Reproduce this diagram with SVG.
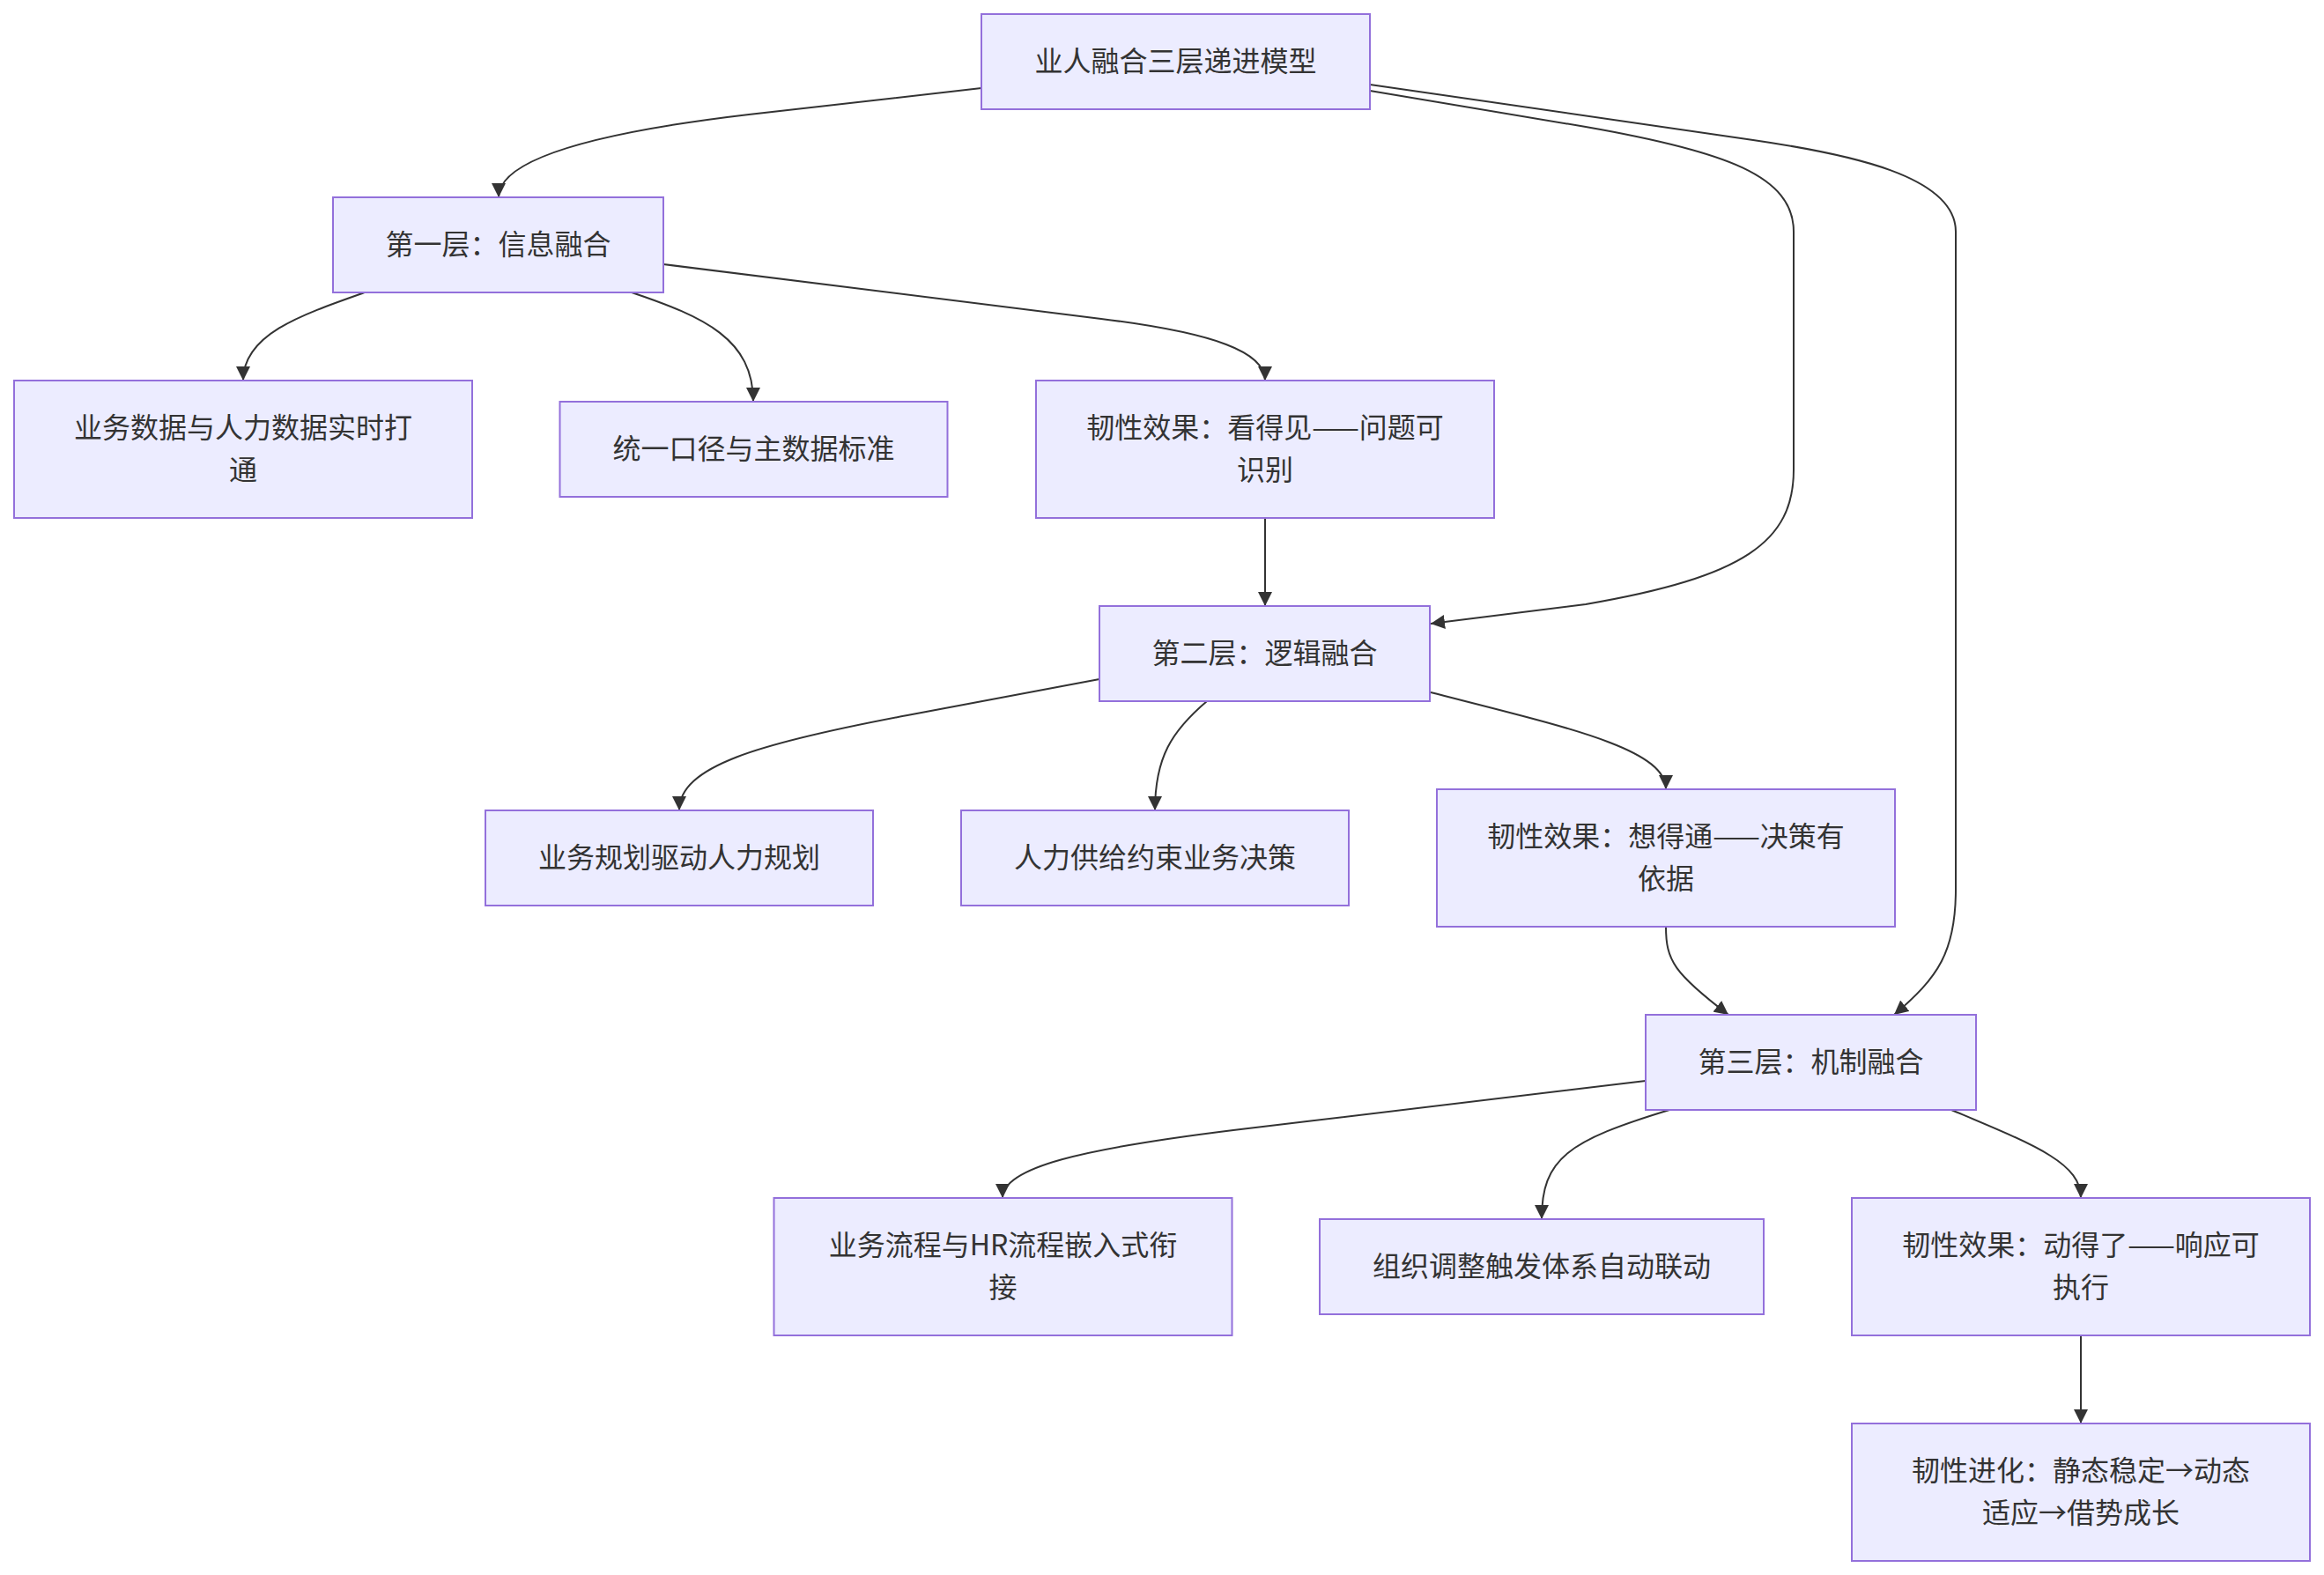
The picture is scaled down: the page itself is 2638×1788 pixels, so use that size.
<svg xmlns="http://www.w3.org/2000/svg" width="2638" height="1788" viewBox="0 0 2638 1788">
<style>
.node rect{fill:#ECECFF;stroke:#9370DB;stroke-width:2;}
.node text{font-family:"Noto Sans CJK SC","Noto Sans",sans-serif;font-size:32px;fill:#333333;text-anchor:middle;}
.edges path{fill:none;stroke:#333333;stroke-width:2;marker-end:url(#arrow);}
</style>
<defs>
<marker id="arrow" viewBox="0 0 10 10" refX="10" refY="5" markerUnits="userSpaceOnUse" markerWidth="16" markerHeight="16" orient="auto">
<path d="M0,0 L10,5 L0,10 z" fill="#333333"/>
</marker>
</defs>
<rect width="2638" height="1788" fill="#ffffff"/>
<g class="edges">
<path d="M1114,100 L850,130 C680,150 566,180 566,224"/>
<path d="M1555,103 L1800,144 C1960,172 2036,200 2036,263 L2036,533 C2036,615 1980,655 1800,686 L1624,708"/>
<path d="M1555,96 L1990,159 C2100,175 2220,200 2220,263 L2220,1010 C2220,1080 2200,1110 2150,1152"/>
<path d="M414,332 C340,358 276,380 276,432"/>
<path d="M717,332 C800,360 855,385 855,456"/>
<path d="M753,300 L1250,362 C1380,378 1436,400 1436,432"/>
<path d="M1436,588 L1436,688"/>
<path d="M1248,771 L1030,812 C860,844 771,870 771,920"/>
<path d="M1370,796 C1330,830 1311,860 1311,920"/>
<path d="M1624,786 C1780,826 1891,850 1891,896"/>
<path d="M1891,1052 C1891,1090 1900,1105 1962,1152"/>
<path d="M1868,1227 L1400,1283 C1230,1304 1138,1325 1138,1360"/>
<path d="M1895,1260 C1780,1295 1750,1315 1750,1384"/>
<path d="M2215,1260 C2310,1300 2362,1320 2362,1360"/>
<path d="M2362,1516 L2362,1616"/>
</g>
<g id="A" class="node"><rect x="1114" y="16" width="441" height="108"/><text x="1334.5" y="81">业人融合三层递进模型</text></g>
<g id="B" class="node"><rect x="378" y="224" width="375" height="108"/><text x="565.5" y="289">第一层：信息融合</text></g>
<g id="C" class="node"><rect x="16" y="432" width="520" height="156"/><text x="276" y="497">业务数据与人力数据实时打</text><text x="276" y="545">通</text></g>
<g id="D" class="node"><rect x="635.5" y="456" width="440" height="108"/><text x="855.5" y="521">统一口径与主数据标准</text></g>
<g id="E" class="node"><rect x="1176" y="432" width="520" height="156"/><text x="1436" y="497">韧性效果：看得见——问题可</text><text x="1436" y="545">识别</text></g>
<g id="F" class="node"><rect x="1248" y="688" width="375" height="108"/><text x="1435.5" y="753">第二层：逻辑融合</text></g>
<g id="G" class="node"><rect x="551" y="920" width="440" height="108"/><text x="771" y="985">业务规划驱动人力规划</text></g>
<g id="H" class="node"><rect x="1091" y="920" width="440" height="108"/><text x="1311" y="985">人力供给约束业务决策</text></g>
<g id="I" class="node"><rect x="1631" y="896" width="520" height="156"/><text x="1891" y="961">韧性效果：想得通——决策有</text><text x="1891" y="1009">依据</text></g>
<g id="J" class="node"><rect x="1868" y="1152" width="375" height="108"/><text x="2055.5" y="1217">第三层：机制融合</text></g>
<g id="K" class="node"><rect x="878.5" y="1360" width="520" height="156"/><text x="1138.5" y="1425">业务流程与HR流程嵌入式衔</text><text x="1138.5" y="1473">接</text></g>
<g id="L" class="node"><rect x="1498" y="1384" width="504" height="108"/><text x="1750" y="1449">组织调整触发体系自动联动</text></g>
<g id="M" class="node"><rect x="2102" y="1360" width="520" height="156"/><text x="2362" y="1425">韧性效果：动得了——响应可</text><text x="2362" y="1473">执行</text></g>
<g id="N" class="node"><rect x="2102" y="1616" width="520" height="156"/><text x="2362" y="1681">韧性进化：静态稳定→动态</text><text x="2362" y="1729">适应→借势成长</text></g>
</svg>
